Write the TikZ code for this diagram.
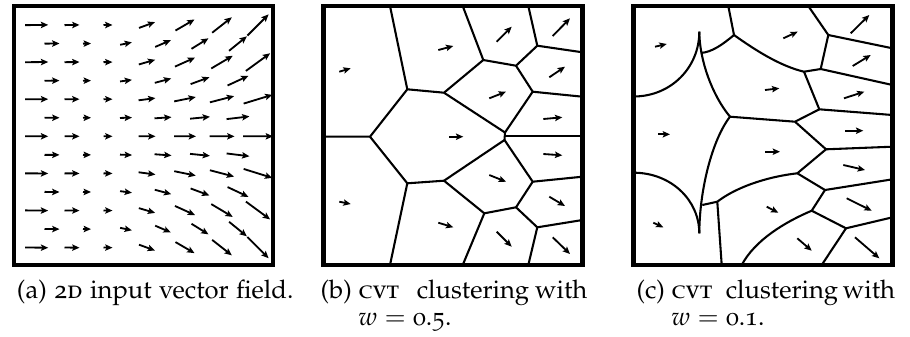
\documentclass[tikz,border=0pt]{standalone}
\usepackage[T1]{fontenc}
\usepackage[sc,osf]{mathpazo}
\usetikzlibrary{arrows.meta}
\tikzset{
  frame/.style={line width=1.76pt, line join=miter},
  cell/.style={line width=0.85pt, line join=round},
  vec/.style={line width=0.75pt, -{Stealth[length=3pt,width=2.6pt,inset=0.6pt]}},
  captext/.style={inner sep=0pt, outer sep=0pt, font=\fontsize{10.5pt}{13pt}\selectfont}
}
\begin{document}
\begin{tikzpicture}[x=0.41pt,y=-0.41pt]
\useasboundingbox (0,0) rectangle (910,336);

% ---------- panel (a): vector field ----------
\foreach \vr in {0,2,...,12}{
  \foreach \vx/\len in {36.7/23,72/15,108/9,147/17,185/22,222/25,258/30}{
    \pgfmathsetmacro\vy{25+18.55*\vr}
    \pgfmathsetmacro\vt{max(0.001,(\vx-108)/150)}
    \pgfmathsetmacro\vs{(136-\vy)/111}
    \pgfmathsetmacro\vsa{abs(\vs)}
    \pgfmathsetmacro\vh{0.5*(sin(90*\vsa)+3*\vsa*\vsa-2*\vsa*\vsa*\vsa)}
    \pgfmathsetmacro\vang{45*pow(\vt,0.6)*\vh*(\vs<0 ? -1 : 1)}
    \draw[vec] ({\vx-0.5*\len*cos(\vang)},{\vy+0.5*\len*sin(\vang)}) -- ({\vx+0.5*\len*cos(\vang)},{\vy-0.5*\len*sin(\vang)});
  }
}
\foreach \vr in {1,3,...,11}{
  \foreach \vx/\len in {52/15,87/8,126/12,163/17,200/20,238/23}{
    \pgfmathsetmacro\vy{25+18.55*\vr}
    \pgfmathsetmacro\vt{max(0.001,(\vx-108)/150)}
    \pgfmathsetmacro\vs{(136-\vy)/111}
    \pgfmathsetmacro\vsa{abs(\vs)}
    \pgfmathsetmacro\vh{0.5*(sin(90*\vsa)+3*\vsa*\vsa-2*\vsa*\vsa*\vsa)}
    \pgfmathsetmacro\vang{45*pow(\vt,0.6)*\vh*(\vs<0 ? -1 : 1)}
    \draw[vec] ({\vx-0.5*\len*cos(\vang)},{\vy+0.5*\len*sin(\vang)}) -- ({\vx+0.5*\len*cos(\vang)},{\vy-0.5*\len*sin(\vang)});
  }
}
\draw[frame] (14,6) rectangle (273,265);

% ---------- panel (b): CVT w=0.5 ----------
\coordinate (b1) at (407.3,89.3);
\coordinate (b2) at (444,92.7);
\coordinate (b3) at (483.3,60);
\coordinate (b4) at (516,65.7);
\coordinate (b5) at (537.3,45.7);
\coordinate (b6) at (532.7,91.7);
\coordinate (b7) at (505,132.5);
\coordinate (b8) at (504.5,140);
\coordinate (b7m) at (504.8,136.3);
\coordinate (b9) at (370,136.7);
\coordinate (b10) at (407.3,183.3);
\coordinate (b11) at (444,180.7);
\coordinate (b12) at (484.3,213.3);
\coordinate (b13) at (516,207.3);
\coordinate (b14) at (532.7,181.7);
\coordinate (b15) at (537.3,227.3);
\draw[cell] (390,6) -- (b1) -- (b2) -- (b3) -- (462.7,6);
\draw[cell] (b3) -- (b4) -- (b5) -- (528.3,6);
\draw[cell] (b5) -- (582.5,52.3);
\draw[cell] (b4) -- (b6) -- (582.5,96.7);
\draw[cell] (b6) -- (b7) -- (b2);
\draw[cell] (b7) -- (b8);
\draw[cell] (b7m) -- (582.5,136.3);
\draw[cell] (b1) -- (b9) -- (323.5,136.7);
\draw[cell] (b9) -- (b10) -- (b11) -- (b8);
\draw[cell] (b11) -- (b12) -- (462.7,265);
\draw[cell] (b12) -- (b13) -- (b14) -- (b8);
\draw[cell] (b14) -- (582.5,176.7);
\draw[cell] (b13) -- (b15) -- (582.5,220);
\draw[cell] (b15) -- (528.3,265);
\draw[cell] (b10) -- (390,265);
\foreach \ax/\ay/\bx/\by in {
  339.3/71.7/350.7/68.3, 438.3/50/453.3/46, 496.7/41.7/511.7/26.7,
  552.7/36/570/18.3, 549.3/77.3/565/66.7, 489.3/98.3/506/91.7,
  543.3/119/562.3/117.3, 449.3/136.7/463.3/136.7, 339.3/201.7/350.7/204,
  543.3/154/562.3/155.3, 489.3/175/506/181.7, 549.3/196.7/565/206,
  438.3/222.7/453.3/227.3, 496.7/231.7/511.7/246.7, 552.7/237.3/570/254}
  \draw[vec] (\ax,\ay) -- (\bx,\by);
\draw[frame] (323.5,6) rectangle (582.5,265);

% ---------- panel (c): CVT w=0.1 ----------
\coordinate (c1) at (730,116.7);
\coordinate (c2) at (734,35);
\coordinate (c3) at (804,71.7);
\coordinate (c4) at (820.7,69);
\coordinate (c5) at (828.3,35);
\coordinate (c6) at (819.3,109.3);
\coordinate (c7) at (795,121.7);
\coordinate (c8) at (826,149.3);
\coordinate (c9) at (797.3,173.3);
\coordinate (c10) at (825,190);
\coordinate (c11) at (811.7,210.7);
\coordinate (c12) at (846,228.3);
\coordinate (c13) at (717.3,201.7);
\coordinate (cuspT) at (699.3,31.7);
\coordinate (cuspB) at (699.3,233.3);
\coordinate (jT) at (700.8,53);
\coordinate (jB) at (702.3,205);
% cusped left cell
\draw[cell] (633.5,96.5) .. controls (671,96.5) and (699.3,67.5) .. (cuspT);
\draw[cell] (cuspT) .. controls (699.5,60) and (712,95) .. (c1);
\draw[cell] (633.5,172.7) .. controls (671,172.7) and (699.3,200) .. (cuspB);
\draw[cell] (c1) .. controls (712,140) and (699.5,190) .. (cuspB);
\draw[cell] (jT) .. controls (712,52) and (722,45) .. (c2);
\draw[cell] (jB) -- (c13);
% remaining cells
\draw[cell] (c2) -- (728.3,6);
\draw[cell] (c2) .. controls (755,50) and (780,66) .. (c3);
\draw[cell] (c3) -- (c4) -- (c5) -- (808.3,6);
\draw[cell] (c5) -- (892.5,48.3);
\draw[cell] (c4) -- (892.5,85);
\draw[cell] (c3) -- (c6) -- (892.5,115);
\draw[cell] (c6) -- (c7) -- (c1);
\draw[cell] (c7) -- (c8) -- (892.5,146.7);
\draw[cell] (c8) -- (c9) -- (c10) -- (892.5,179.3);
\draw[cell] (c10) -- (c11) -- (c12) -- (892.5,217.3);
\draw[cell] (c12) -- (821.7,265);
\draw[cell] (c11) .. controls (785,222) and (755,240) .. (741.7,265);
\draw[cell] (c13) -- (721.7,265);
\draw[cell] (c13) .. controls (735,188) and (765,177) .. (c9);
\foreach \ax/\ay/\bx/\by in {
  655/46.7/666.7/44, 783.3/38.3/797.7/31.7, 850.7/33.3/869.3/15,
  852.7/66/870.7/55, 765/90/779.3/88.3, 844/98.3/864.3/91.7,
  658.3/134.3/670/134.3, 845/130.7/863.3/130.7, 765/151.7/780/151.7,
  843.3/165/865/170, 846.7/198.3/871.7/210.7, 766.7/206.7/778.3/212.7,
  653.3/222.7/663.3/227.3, 797.3/238.3/811.7/250.7, 855/237.3/879.3/258.3}
  \draw[vec] (\ax,\ay) -- (\bx,\by);
\draw[frame] (633.5,6) rectangle (892.5,265);

% ---------- captions ----------
\node[captext, anchor=base west] (capA) at (17,298.5) {(a) \textsc{2d} input vector field.};
% (b): label, then justified words; second line hangs under the text
\node[captext, anchor=base west] (capBl) at (320.7,298.5) {(b)};
\node[captext, anchor=base west, xshift=2.6pt] (capBa) at (capBl.base east) {\textsc{cvt}};
\node[captext, anchor=base] (capBb) at (473,298.5) {clustering};
\node[captext, anchor=base east] (capBc) at (587.3,298.5) {with};
\node[captext, anchor=base west] (capB2) at (capBa.base west |- 0,325) {$w = \mbox{0.5}$.};
% (c)
\node[captext, anchor=base west] (capCl) at (636.5,298.5) {(c)};
\node[captext, anchor=base west, xshift=2.6pt] (capCa) at (capCl.base east) {\textsc{cvt}};
\node[captext, anchor=base] (capCb) at (782,298.5) {clustering};
\node[captext, anchor=base east] (capCc) at (895,298.5) {with};
\node[captext, anchor=base west] (capC2) at (capCa.base west |- 0,325) {$w = \mbox{0.1}$.};
\end{tikzpicture}
\end{document}
